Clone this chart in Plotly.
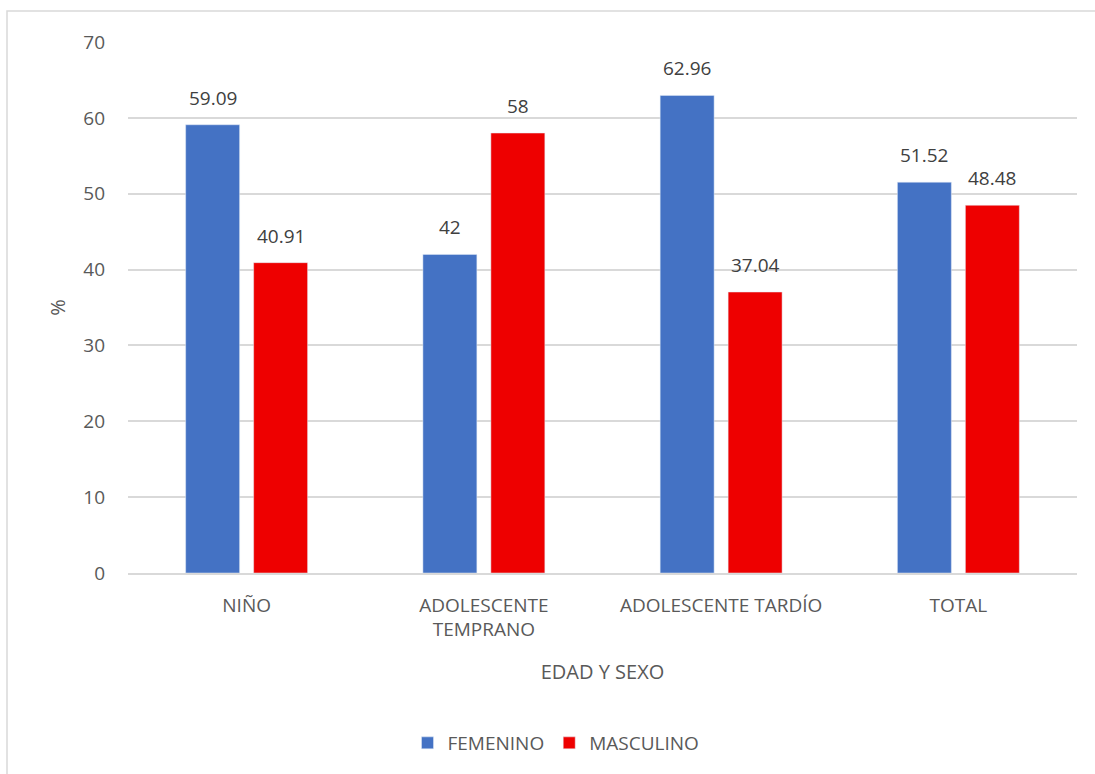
import plotly.graph_objects as go

# Distribution by age group and sex (%)
categories = ["NIÑO", "ADOLESCENTE<br>TEMPRANO", "ADOLESCENTE TARDÍO", "TOTAL"]
femenino = [59.09, 42, 62.96, 51.52]
masculino = [40.91, 58, 37.04, 48.48]
femenino_labels = ["59.09", "42", "62.96", "51.52"]
masculino_labels = ["40.91", "58", "37.04", "48.48"]
y_ticks = [0, 10, 20, 30, 40, 50, 60, 70]

W, H = 1095, 774
L, R, T, B = 128, 18, 42, 201
FONT = "Open Sans, Noto Sans, sans-serif"
GREY = "#595959"
FS = 19

fig = go.Figure()
fig.add_trace(go.Bar(name="FEMENINO", x=categories, y=femenino, marker_color="#4472C4"))
fig.add_trace(go.Bar(name="MASCULINO", x=categories, y=masculino, marker_color="#EE0000"))

# value labels above each bar
for vals, labels, dx in ((femenino, femenino_labels, -34), (masculino, masculino_labels, 34)):
    for cat, v, lab in zip(categories, vals, labels):
        fig.add_annotation(x=cat, y=v, text=lab, showarrow=False,
                           xshift=dx, yshift=27, yanchor="middle",
                           font=dict(size=FS, color="#404040", family=FONT))

pw, ph = W - L - R, H - T - B
# outer chart frame (extends past the right and bottom edges)
fig.add_shape(type="rect", xref="paper", yref="paper",
              x0=(7 - L) / pw, x1=(W + 20 - L) / pw,
              y0=-(H + 20 - T - ph) / ph, y1=1 + (T - 11) / ph,
              line=dict(color="#D9D9D9", width=1.5), layer="below")

fig.update_layout(
    width=W, height=H,
    margin=dict(l=L, r=R, t=T, b=B),
    paper_bgcolor="white", plot_bgcolor="white",
    barmode="group", bargap=0.427, bargroupgap=0.206,
    font=dict(family=FONT, size=FS, color=GREY),
    showlegend=True,
    legend=dict(orientation="h", x=(556 - L) / pw, xanchor="center",
                y=-(743 - T - ph) / ph, yanchor="middle",
                font=dict(size=FS, color=GREY), itemwidth=30),
    xaxis=dict(
        showgrid=False, showline=True, linecolor="#D9D9D9", linewidth=1.5,
        ticks="", tickfont=dict(size=FS, color=GREY), ticklabelstandoff=14,
        title=dict(text="EDAD Y SEXO", font=dict(size=FS + 1, color=GREY), standoff=24),
    ),
    yaxis=dict(
        range=[0, 70], tickvals=y_ticks, showgrid=True, gridcolor="#D9D9D9",
        gridwidth=1.5, zeroline=False, showline=False, ticks="",
        ticklabelstandoff=22,
        tickfont=dict(size=FS, color=GREY),
        title=dict(text="%", font=dict(size=FS + 1, color=GREY), standoff=12),
    ),
)

fig.write_html("out.html")
